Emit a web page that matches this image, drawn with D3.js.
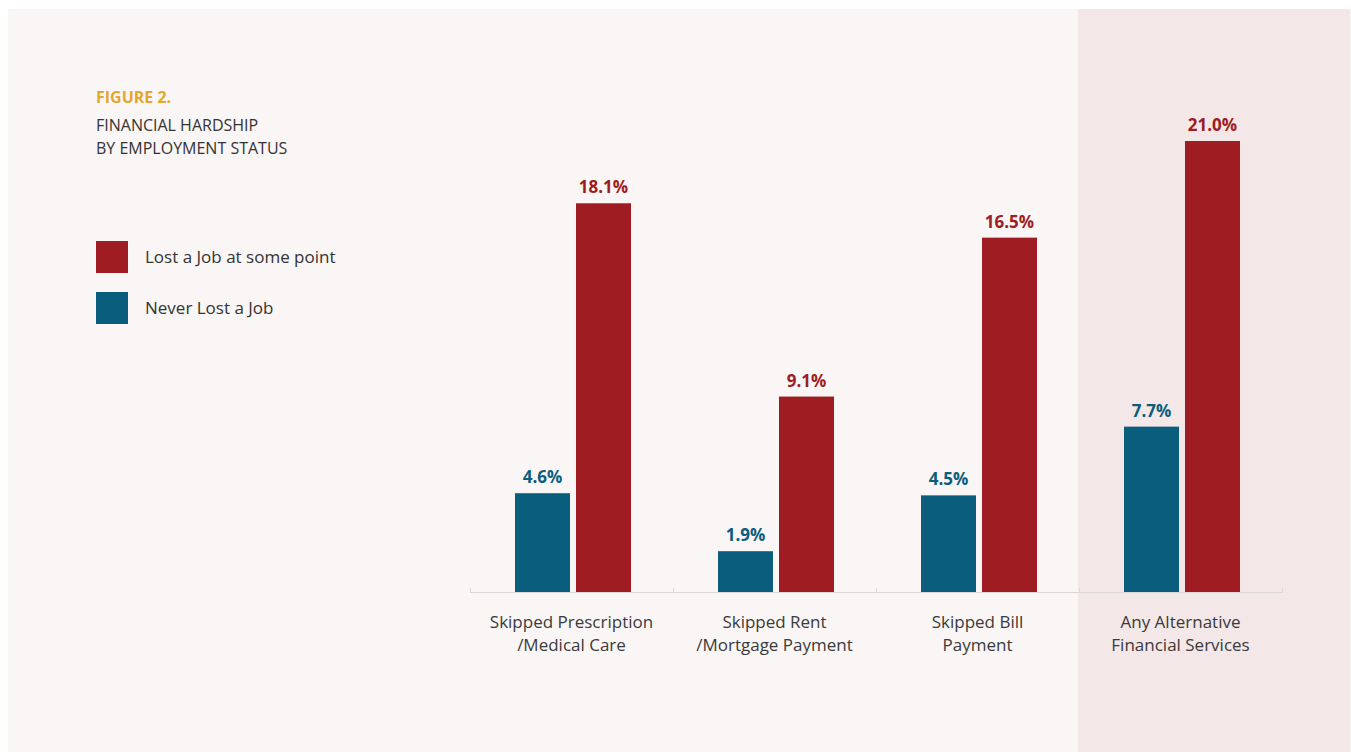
<!DOCTYPE html>
<head>
  <meta charset="utf-8">
  <script src="https://d3js.org/d3.v7.min.js"></script>
  <style>
    body { margin:0; background:#ffffff; }
    svg { display:block; font-family: "Open Sans", Lato, sans-serif; }
  </style>
</head>
<body>
  <svg id="chart" width="1351" height="752"></svg>
  <script>
  // data
  var categories = [
    ["Skipped Prescription", "/Medical Care"],
    ["Skipped Rent", "/Mortgage Payment"],
    ["Skipped Bill", "Payment"],
    ["Any Alternative", "Financial Services"]
  ];
  var seriesNames = ["Never Lost a Job", "Lost a Job at some point"];
  var neverLost = [4.6, 1.9, 4.5, 7.7];
  var lostJob = [18.1, 9.1, 16.5, 21.0];
  var colors = ["#0b5d7e", "#9e1c22"];

  var svg = d3.select("#chart");

  // card + highlight panel
  svg.append("rect").attr("x", 8).attr("y", 9).attr("width", 1343).attr("height", 743).attr("fill", "#faf6f5");
  svg.append("rect").attr("x", 1078).attr("y", 9).attr("width", 272).attr("height", 743).attr("fill", "#f4e7e7");

  var left = 470, right = 1282, base = 592;

  var x0 = d3.scaleBand()
    .domain(d3.range(categories.length))
    .range([left, right])
    .paddingInner(0).paddingOuter(0);

  var x1 = d3.scaleBand()
    .domain([0, 1])
    .range([45, 161])
    .paddingInner(0.098);

  var y = d3.scaleLinear()
    .domain([0, 21])
    .range([base, 141]);

  // axis baseline with ticks at band edges
  var axis = svg.append("g");
  axis.append("line")
    .attr("x1", left).attr("x2", right)
    .attr("y1", base + 0.5).attr("y2", base + 0.5)
    .attr("stroke", "#dcd6d5").attr("stroke-width", 1);
  axis.selectAll("line.tick")
    .data(d3.range(categories.length + 1))
    .join("line")
    .attr("class", "tick")
    .attr("x1", function(d) { return left + d * x0.bandwidth() + 0.5; })
    .attr("x2", function(d) { return left + d * x0.bandwidth() + 0.5; })
    .attr("y1", base - 4).attr("y2", base + 1)
    .attr("stroke", "#dcd6d5");

  var groups = svg.selectAll("g.grp")
    .data(categories)
    .join("g")
    .attr("class", "grp")
    .attr("transform", function(d, i) { return "translate(" + x0(i) + ",0)"; });

  groups.each(function(cat, i) {
    var g = d3.select(this);
    var vals = [neverLost[i], lostJob[i]];
    g.selectAll("rect")
      .data(vals)
      .join("rect")
      .attr("x", function(d, j) { return x1(j); })
      .attr("width", x1.bandwidth())
      .attr("y", function(d) { return y(d); })
      .attr("height", function(d) { return base - y(d); })
      .attr("fill", function(d, j) { return colors[j]; });
    g.selectAll("text.val")
      .data(vals)
      .join("text")
      .attr("class", "val")
      .attr("x", function(d, j) { return x1(j) + x1.bandwidth() / 2; })
      .attr("y", function(d) { return y(d) - 10; })
      .attr("text-anchor", "middle")
      .attr("font-size", 17)
      .attr("font-weight", "bold")
      .attr("fill", function(d, j) { return colors[j]; })
      .text(function(d) { return d.toFixed(1) + "%"; });
    g.selectAll("text.cat")
      .data(cat)
      .join("text")
      .attr("class", "cat")
      .attr("x", x0.bandwidth() / 2)
      .attr("y", function(d, k) { return 628 + k * 23; })
      .attr("text-anchor", "middle")
      .attr("font-size", 17)
      .attr("fill", "#3a3a3a")
      .text(function(d) { return d; });
  });

  // title
  svg.append("text").attr("x", 96).attr("y", 103)
    .attr("font-size", 16).attr("font-weight", "bold").attr("fill", "#e2a72b")
    .text("FIGURE 2.");
  svg.append("text").attr("x", 96).attr("y", 131)
    .attr("font-size", 16).attr("fill", "#333")
    .text("FINANCIAL HARDSHIP");
  svg.append("text").attr("x", 96).attr("y", 154)
    .attr("font-size", 16).attr("fill", "#333")
    .text("BY EMPLOYMENT STATUS");

  // legend (red first)
  var legendOrder = [1, 0];
  var legend = svg.selectAll("g.leg")
    .data(legendOrder)
    .join("g")
    .attr("class", "leg")
    .attr("transform", function(d, i) { return "translate(96," + (241 + i * 51) + ")"; });
  legend.append("rect").attr("width", 32).attr("height", 32)
    .attr("fill", function(d) { return colors[d]; });
  legend.append("text").attr("x", 49).attr("y", 22)
    .attr("font-size", 17).attr("fill", "#333")
    .text(function(d) { return seriesNames[d]; });
  </script>
</body>
